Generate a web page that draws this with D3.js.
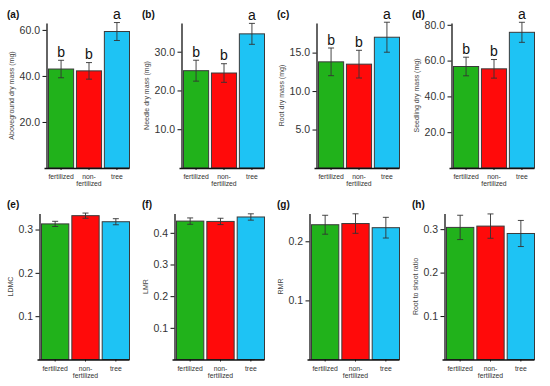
<!DOCTYPE html>
<html>
<head>
<meta charset="utf-8">
<script src="https://cdn.jsdelivr.net/npm/d3@7"></script>
<style>
  body { margin: 0; background: #fff; }
  svg { display: block; font-family: "Liberation Sans", Arial, sans-serif; }
</style>
</head>
<body>
<svg id="chart" width="550" height="386"></svg>
<script>
// ---------- data ----------
const groups = ["fertilized", "non-fertilized", "tree"];
const groupLabels = [["fertilized"], ["non-", "fertilized"], ["tree"]];
const colors = ["#21b21b", "#ff0a0a", "#1ec3f4"];

const aboveMean = [43.0, 42.2, 59.3];
const aboveErr = [3.8, 3.6, 3.9];
const aboveLetters = ["b", "b", "a"];
const aboveTicks = [20, 40, 60];

const needleMean = [25.1, 24.5, 34.6];
const needleErr = [2.7, 2.4, 2.7];
const needleLetters = ["b", "b", "a"];
const needleTicks = [10, 20, 30];

const rootMean = [13.8, 13.5, 17.0];
const rootErr = [1.8, 1.8, 1.95];
const rootLetters = ["b", "b", "a"];
const rootTicks = [5, 10, 15];

const seedlingMean = [56.7, 55.4, 75.8];
const seedlingErr = [5.2, 5.2, 5.6];
const seedlingLetters = ["b", "b", "a"];
const seedlingTicks = [20, 40, 60, 80];

const ldmcMean = [0.313, 0.332, 0.318];
const ldmcErr = [0.006, 0.006, 0.007];
const ldmcTicks = [0.1, 0.2, 0.3];

const lmrMean = [0.437, 0.436, 0.450];
const lmrErr = [0.010, 0.010, 0.010];
const lmrTicks = [0.1, 0.2, 0.3, 0.4];

const rmrMean = [0.228, 0.230, 0.223];
const rmrErr = [0.016, 0.0165, 0.0175];
const rmrTicks = [0.1, 0.2];

const rsMean = [0.304, 0.307, 0.290];
const rsErr = [0.028, 0.028, 0.030];
const rsTicks = [0.1, 0.2, 0.3];

// ---------- panels ----------
const panels = [
  {tag: "(a)", title: "Aboveground dry mass (mg)", mean: aboveMean, err: aboveErr, letters: aboveLetters, ticks: aboveTicks, max: 63, col: 0, row: 0},
  {tag: "(b)", title: "Needle dry mass (mg)", mean: needleMean, err: needleErr, letters: needleLetters, ticks: needleTicks, max: 37.4, col: 1, row: 0},
  {tag: "(c)", title: "Root dry mass (mg)", mean: rootMean, err: rootErr, letters: rootLetters, ticks: rootTicks, max: 18.85, col: 2, row: 0},
  {tag: "(d)", title: "Seedling dry mass (mg)", mean: seedlingMean, err: seedlingErr, letters: seedlingLetters, ticks: seedlingTicks, max: 81, col: 3, row: 0},
  {tag: "(e)", title: "LDMC", mean: ldmcMean, err: ldmcErr, letters: null, ticks: ldmcTicks, max: 0.337, col: 0, row: 1},
  {tag: "(f)", title: "LMR", mean: lmrMean, err: lmrErr, letters: null, ticks: lmrTicks, max: 0.461, col: 1, row: 1},
  {tag: "(g)", title: "RMR", mean: rmrMean, err: rmrErr, letters: null, ticks: rmrTicks, max: 0.247, col: 2, row: 1},
  {tag: "(h)", title: "Root to shoot ratio", mean: rsMean, err: rsErr, letters: null, ticks: rsTicks, max: 0.336, col: 3, row: 1}
];

const rowLayout = [
  {top: 23, bottom: 168, left: 46.5, tagY: 17.5},
  {top: 213.5, bottom: 359.5, left: 39.5, tagY: 208}
];
const colX = [0, 135, 270, 405];

const svg = d3.select("#chart");

panels.forEach(p => {
  const L = rowLayout[p.row];
  const ox = colX[p.col];
  const g = svg.append("g").attr("transform", `translate(${ox},0)`);

  const x = d3.scaleBand().domain(groups).range([L.left + 2, 129.5]).paddingInner(0.1).paddingOuter(0);
  const y = d3.scaleLinear().domain([0, p.max]).range([L.bottom, L.top]);

  // bars
  g.selectAll("rect.bar").data(groups).join("rect")
    .attr("class", "bar")
    .attr("x", d => x(d))
    .attr("width", x.bandwidth())
    .attr("y", (d, i) => y(p.mean[i]))
    .attr("height", (d, i) => y(0) - y(p.mean[i]))
    .attr("fill", (d, i) => colors[i])
    .attr("stroke", "#3a3a3a")
    .attr("stroke-width", 1);

  // error bars
  const cap = 3;
  groups.forEach((d, i) => {
    const cx = x(d) + x.bandwidth() / 2;
    const y1 = y(p.mean[i] + p.err[i]);
    const y2 = y(p.mean[i] - p.err[i]);
    g.append("line").attr("x1", cx).attr("x2", cx).attr("y1", y1).attr("y2", y2)
      .attr("stroke", "#333").attr("stroke-width", 0.9);
    g.append("line").attr("x1", cx - cap).attr("x2", cx + cap).attr("y1", y1).attr("y2", y1)
      .attr("stroke", "#333").attr("stroke-width", 0.9);
    g.append("line").attr("x1", cx - cap).attr("x2", cx + cap).attr("y1", y2).attr("y2", y2)
      .attr("stroke", "#333").attr("stroke-width", 0.9);
    if (p.letters) {
      g.append("text").attr("x", cx).attr("y", y1 - 3.5)
        .attr("text-anchor", "middle").attr("font-size", 14).attr("fill", "#111")
        .text(p.letters[i]);
    }
  });

  // y axis
  const yAxis = d3.axisLeft(y).tickValues(p.ticks).tickFormat(d3.format(".1f"))
    .tickSize(4).tickSizeOuter(0).tickPadding(2.5);
  const ya = g.append("g").attr("transform", `translate(${L.left},0)`).call(yAxis);
  ya.select(".domain").attr("stroke", "#111").attr("stroke-width", 1.3);
  ya.selectAll(".tick line").attr("stroke", "#111").attr("stroke-width", 1);
  ya.selectAll(".tick text").attr("font-size", 10.5).attr("fill", "#333")
    .attr("font-family", "Liberation Sans, Arial, sans-serif");

  // x axis
  const xAxis = d3.axisBottom(x).tickSize(2).tickSizeOuter(0).tickFormat("");
  const xa = g.append("g").attr("transform", `translate(0,${L.bottom})`).call(xAxis);
  xa.select(".domain").attr("d", `M${L.left - 2},0.5H129.5`).attr("stroke", "#111").attr("stroke-width", 1.3);
  xa.selectAll(".tick line").attr("stroke", "#111");
  groups.forEach((d, i) => {
    const t = g.append("text").attr("text-anchor", "middle")
      .attr("font-size", 6.8).attr("fill", "#333");
    groupLabels[i].forEach((s, k) => {
      t.append("tspan").attr("x", x(d) + x.bandwidth() / 2)
        .attr("y", L.bottom + 11 + k * 7.4).text(s);
    });
  });

  // y title
  const cy = (L.top + L.bottom) / 2;
  const tx = p.row === 0 ? 14 : 12.5;
  g.append("text").attr("transform", `translate(${tx},${cy}) rotate(-90)`)
    .attr("text-anchor", "middle").attr("font-size", 7).attr("fill", "#444")
    .text(p.title);

  // panel tag
  g.append("text").attr("x", 7).attr("y", L.tagY)
    .attr("font-size", 10).attr("font-weight", "bold").attr("fill", "#111")
    .text(p.tag);
});
</script>
</body>
</html>
